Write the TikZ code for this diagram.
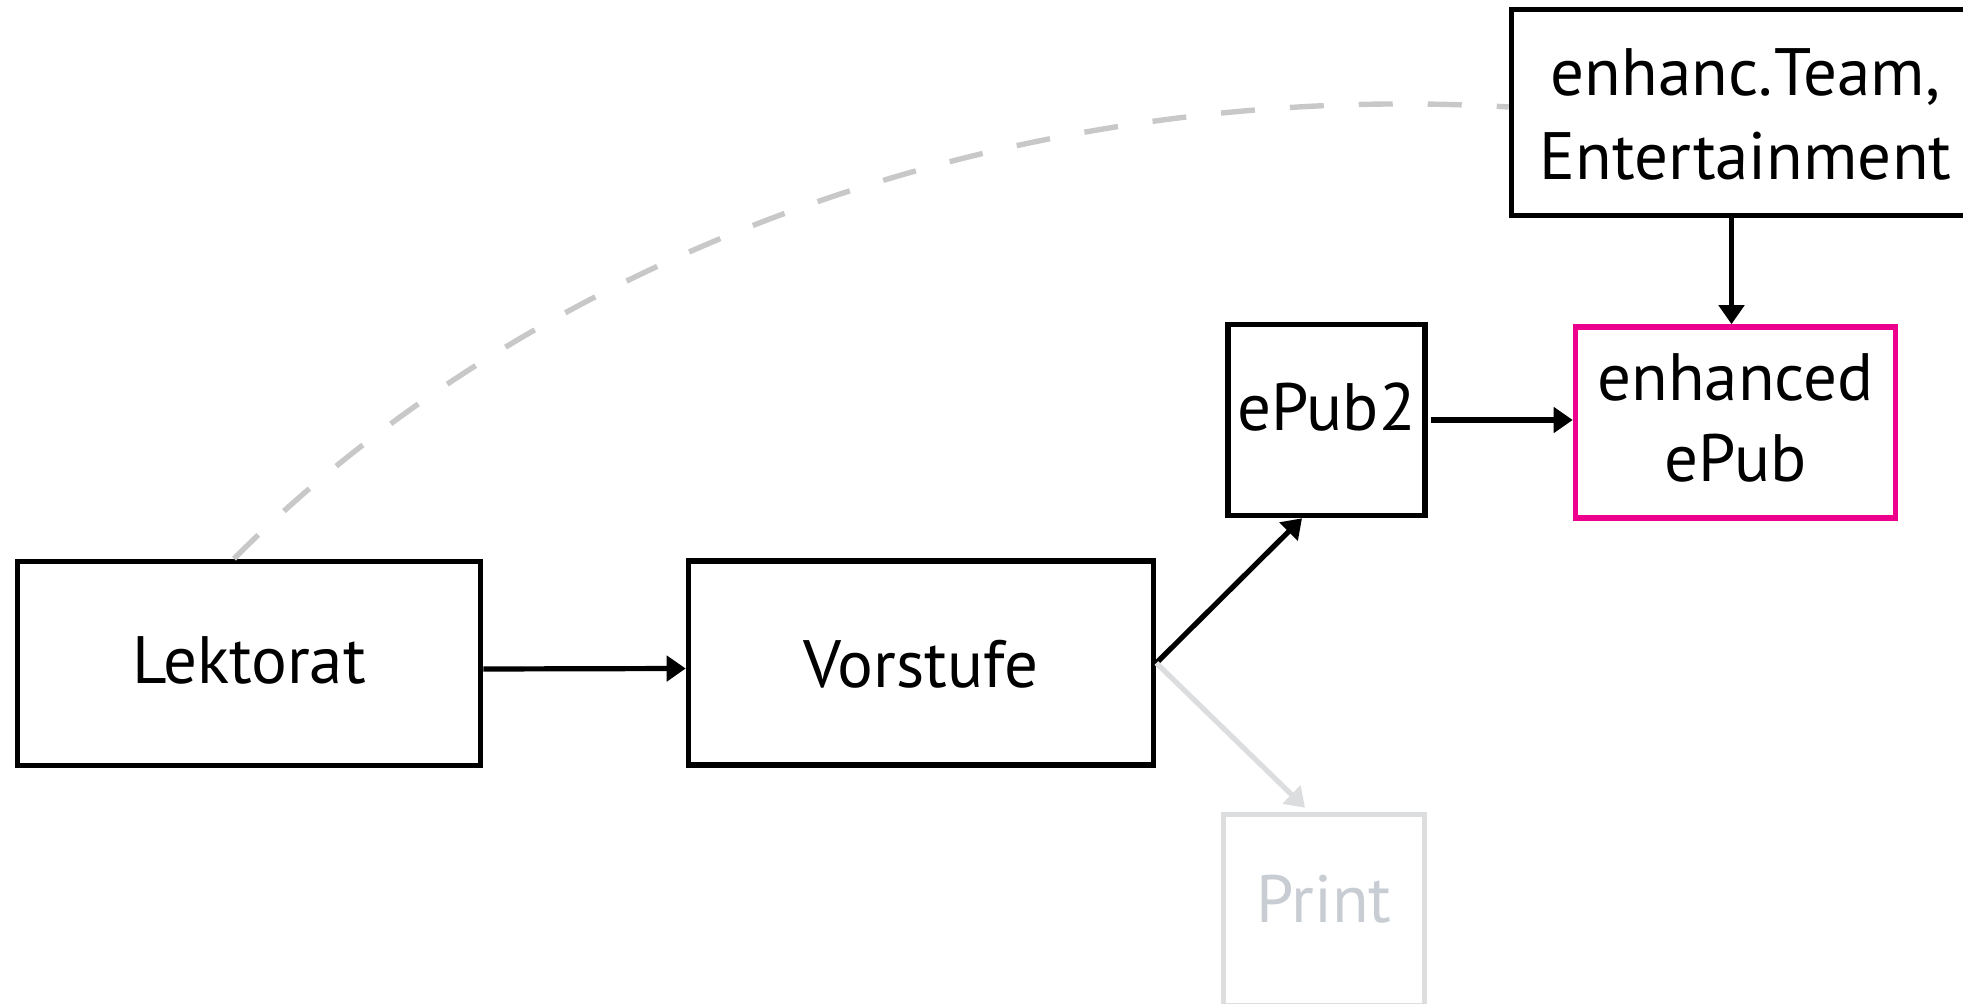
\documentclass[tikz,border=0pt]{standalone}
\usepackage{fontspec}
\setmainfont{PT Sans}
\usetikzlibrary{arrows.meta}
\definecolor{magentabox}{HTML}{EC008C}
\definecolor{printgray}{HTML}{DCDDDF}
\definecolor{printtext}{HTML}{C8CCD3}
\definecolor{dashgray}{HTML}{C8C8C8}
\begin{document}
\begin{tikzpicture}[x=0.5pt,y=-0.5pt,
  box/.style={draw, line width=2.8pt, inner sep=0pt, font=\fontsize{33.5}{42}\selectfont, text depth=0pt},
  conn/.style={line width=2.6pt, -{Triangle[length=9.5pt,width=12.5pt]}},
  dashcurve/.style={draw=dashgray, line width=2.7pt, dash pattern=on 17pt off 17.5pt},
]
\useasboundingbox (0,0) rectangle (1963,1004);
\clip (0,0) rectangle (1963,1004);
\node[box, minimum width=231.5pt, minimum height=102pt, text height=19.5pt] (lek) at (249,663.5) {Lektorat};
\node[box, minimum width=232.5pt, minimum height=102pt, text height=24pt] (vor) at (921,663) {Vorstufe};
\node[box, minimum width=98.5pt, minimum height=95.5pt, text height=11pt] (epub2) at (1326.5,420) {ePub2};
\node[box, draw=printgray, text=printtext, minimum width=100.5pt, minimum height=95.5pt, text height=12pt] (print) at (1324,910) {Print};
\node[box, draw=magentabox, align=center, minimum width=160pt, minimum height=95.5pt, text height=59.5pt, text depth=0pt, font=\fontsize{33.5}{40.5}\selectfont] (enh) at (1735.5,422.5) {enhanced\\ePub};
\node[box, align=center, minimum width=234pt, minimum height=103pt, text height=67.5pt, text depth=0pt] (team) at (1745.5,112.5) {enhanc.\kern1pt Team,\\Entertainment};
\draw[conn] ([yshift=-2.75pt]lek.east) -- ([yshift=-2.75pt]vor.west);
\draw[conn] (vor.east) -- ([xshift=-12.25pt]epub2.south);
\draw[conn, draw=printgray] (vor.east) -- ([xshift=-9.5pt,yshift=2pt]print.north);
\draw[conn] ([xshift=1.5pt]epub2.east) -- (epub2.east -| enh.west);
\draw[conn] ([xshift=-7pt]team.south) -- ([xshift=-7pt]team.south |- enh.north);
\draw[dashcurve] ([xshift=-7.5pt]lek.north) .. controls (534,257) and (1011,78) .. ([yshift=2.75pt]team.west);
\end{tikzpicture}
\end{document}
